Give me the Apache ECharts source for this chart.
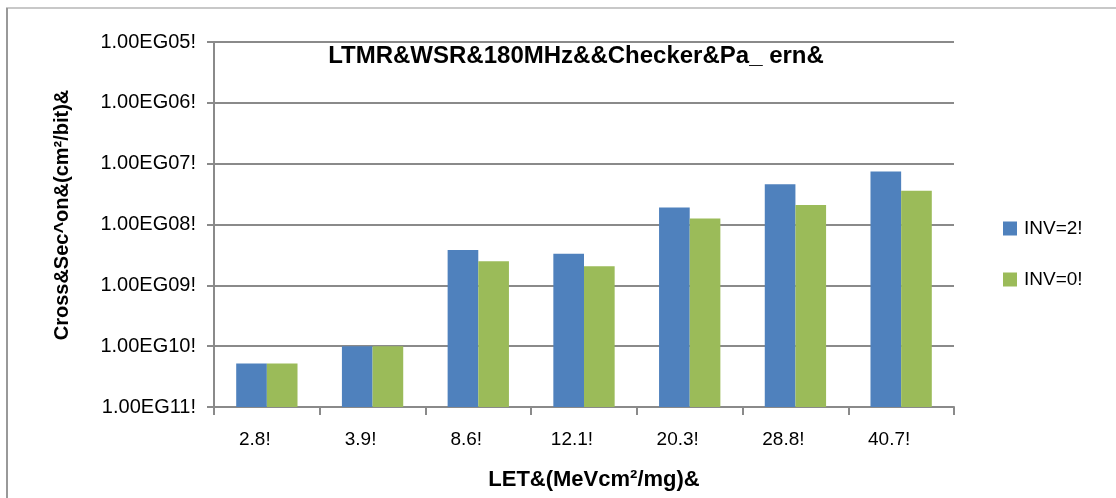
<!DOCTYPE html>
<html>
<head>
<meta charset="utf-8">
<script src="https://cdn.jsdelivr.net/npm/echarts@6/dist/echarts.min.js"></script>
<style>
  html, body { margin: 0; padding: 0; background: #fff; }
  #chart { width: 1116px; height: 498px; }
</style>
</head>
<body>
<div id="chart"></div>
<script>
// LET categories and cross-section values per bit (log scale)
const categories = ['2.8!', '3.9!', '8.6!', '12.1!', '20.3!', '28.8!', '40.7!'];
const inv2 = [5.2e-11, 1.0e-10, 3.8e-9, 3.3e-9, 1.9e-8, 4.6e-8, 7.4e-8];
const inv0 = [5.2e-11, 1.0e-10, 2.5e-9, 2.05e-9, 1.25e-8, 2.1e-8, 3.6e-8];
const seriesNames = ['INV=2!', 'INV=0!'];
// tick labels by decade exponent
const yTickLabels = {
  '-11': '1.00EG11!', '-10': '1.00EG10!', '-9': '1.00EG09!', '-8': '1.00EG08!',
  '-7': '1.00EG07!', '-6': '1.00EG06!', '-5': '1.00EG05!'
};
const titleText = 'LTMR&WSR&180MHz&&Checker&Pa_ ern&';
const xName = 'LET&(MeVcm²/mg)&';
const yName = 'Cross&Sec^on&(cm²/bit)&';

const yMin = 1e-11;
const yMax = 1e-5;
const gridColor = '#8a8a8a';
const colors = ['#4f81bd', '#9bbb59'];
const font = "'Liberation Sans', Arial, sans-serif";

// bars grow up from the bottom of the log axis; each series takes its slot in the category
const barFraction = 0.29;
function makeRenderItem(slot) {
  return function (params, api) {
    const idx = api.value(0);
    const top = api.coord([idx, api.value(1)]);
    const base = api.coord([idx, yMin]);
    const band = api.size([1, 0])[0];
    const w = band * barFraction;
    const x = top[0] - w + slot * w;
    return {
      type: 'rect',
      shape: { x: x, y: top[1], width: w, height: base[1] - top[1] },
      style: { fill: colors[slot] }
    };
  };
}
const toPairs = arr => arr.map((v, i) => [i, v]);

const chart = echarts.init(document.getElementById('chart'), null, { renderer: 'canvas' });
chart.setOption({
  animation: false,
  backgroundColor: '#fff',
  color: colors,
  grid: { left: 214, right: 162, top: 42, bottom: 91 },
  legend: {
    orient: 'vertical',
    left: 998,
    top: 214,
    itemWidth: 14,
    itemHeight: 14,
    itemGap: 32,
    icon: 'rect',
    textStyle: { fontFamily: font, fontSize: 19, color: '#000', padding: [0, 0, 0, 2] },
    data: seriesNames
  },
  graphic: [
    { type: 'line', shape: { x1: 6, y1: 8, x2: 1116, y2: 8 }, style: { stroke: '#c8c8c8', lineWidth: 2 } },
    { type: 'line', shape: { x1: 7, y1: 8, x2: 7, y2: 498 }, style: { stroke: '#999', lineWidth: 2 } },
    {
      type: 'text', x: 576, y: 56, z: 10,
      style: { text: titleText, fontFamily: font, fontWeight: 'bold', fontSize: 24, fill: '#000', textAlign: 'center', textVerticalAlign: 'middle' }
    }
  ],
  xAxis: {
    type: 'category',
    data: categories,
    name: xName,
    nameLocation: 'middle',
    nameGap: 62,
    nameTextStyle: { fontFamily: font, fontWeight: 'bold', fontSize: 22, color: '#000', padding: [0, 0, 0, 20] },
    axisLine: { lineStyle: { color: gridColor, width: 2 } },
    axisTick: { show: true, length: 8, alignWithLabel: false, lineStyle: { color: gridColor, width: 2 } },
    axisLabel: { fontFamily: font, fontSize: 19, color: '#000', margin: 23, padding: [0, 24, 0, 0] }
  },
  yAxis: {
    type: 'log',
    logBase: 10,
    min: yMin,
    max: yMax,
    name: yName,
    nameLocation: 'middle',
    nameGap: 142,
    nameRotate: 90,
    nameTextStyle: { fontFamily: font, fontWeight: 'bold', fontSize: 20, color: '#000', padding: [0, 0, 0, 19] },
    axisLine: { show: true, lineStyle: { color: gridColor, width: 2 } },
    axisTick: { show: true, length: 7, lineStyle: { color: gridColor, width: 2 } },
    splitLine: { show: true, lineStyle: { color: gridColor, width: 2 } },
    axisLabel: {
      fontFamily: font, fontSize: 20, color: '#000', margin: 18,
      formatter: v => yTickLabels[String(Math.round(Math.log10(v)))] || ''
    }
  },
  series: [
    {
      name: seriesNames[0], type: 'custom', data: toPairs(inv2),
      encode: { x: 0, y: 1 }, itemStyle: { color: colors[0] },
      renderItem: makeRenderItem(0)
    },
    {
      name: seriesNames[1], type: 'custom', data: toPairs(inv0),
      encode: { x: 0, y: 1 }, itemStyle: { color: colors[1] },
      renderItem: makeRenderItem(1)
    }
  ]
});
</script>
</body>
</html>
